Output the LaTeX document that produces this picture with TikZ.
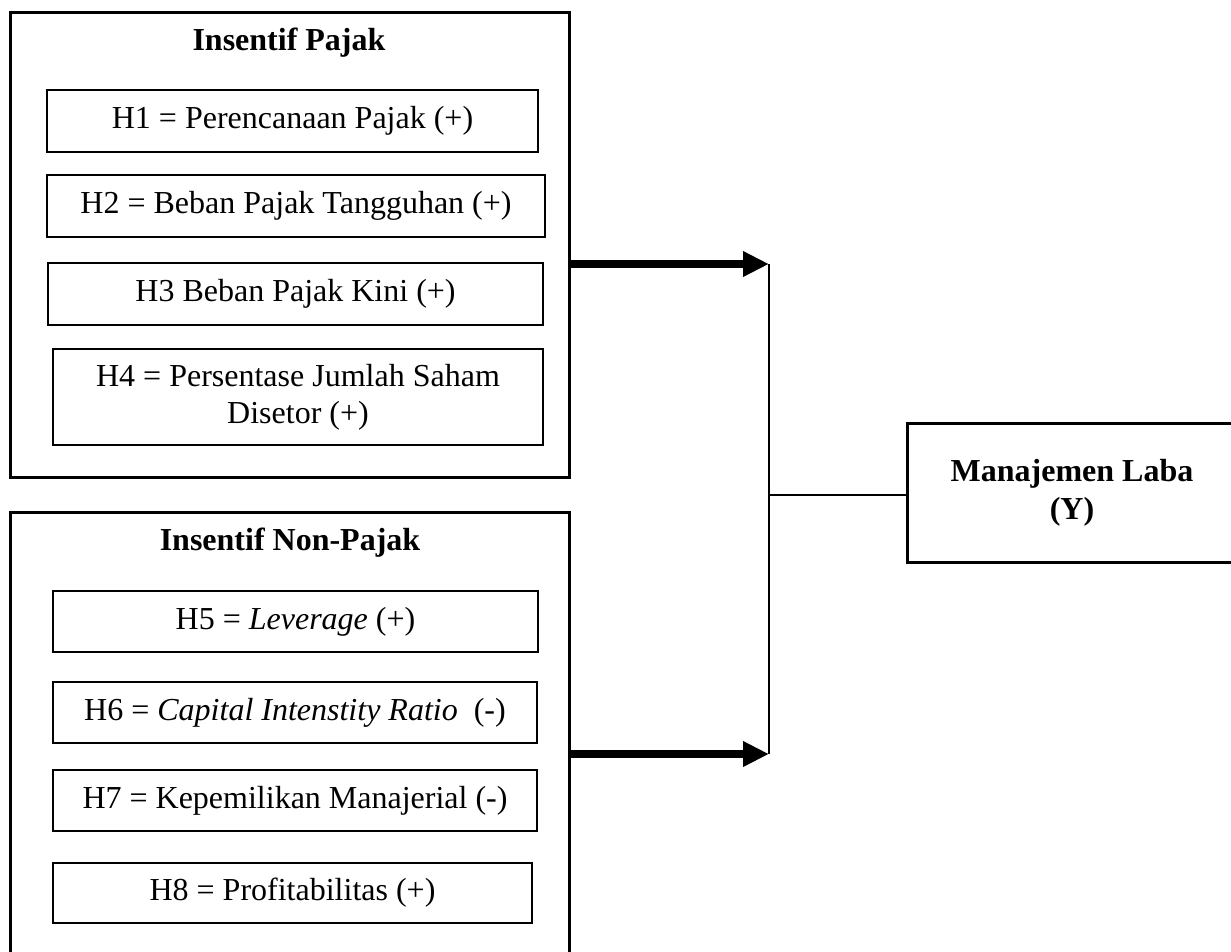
\documentclass[tikz,border=0pt]{standalone}
\usepackage{fontspec}
\setmainfont{Liberation Serif}
\usetikzlibrary{arrows.meta}
\tikzset{
  outerbox/.style={draw, line width=3pt, minimum width=559pt, inner sep=0pt},
  hbox/.style={draw, line width=2.5pt, inner sep=0pt, align=center, font=\fontsize{32}{37}\selectfont},
  titletxt/.style={font=\bfseries\fontsize{32}{37}\selectfont, inner sep=0pt},
  thickarrow/.style={line width=8pt, -{Triangle[length=26pt,width=24pt]}, shorten >=0pt},
  thinline/.style={line width=2pt},
}
\begin{document}
\begin{tikzpicture}[x=1pt,y=-1pt]
\useasboundingbox (0,0) rectangle (1231,951);
% outer boxes
\node[outerbox, minimum height=465pt] (box1) at (289.5,244.5) {};
\node[outerbox, minimum height=500pt] (box2) at (289.5,762) {};
% titles
\node[titletxt] (t1) at (289,43) {Insentif Pajak};
\node[titletxt] (t2) at (290,543) {Insentif Non-Pajak};
% hypothesis boxes
\node[hbox, minimum width=491pt, minimum height=62pt] (h1) at (292.5,121) {H1 = Perencanaan Pajak (+)};
\node[hbox, minimum width=498pt, minimum height=62pt] (h2) at (296,206) {H2 = Beban Pajak Tangguhan (+)};
\node[hbox, minimum width=495pt, minimum height=62pt] (h3) at (295.5,294) {H3 Beban Pajak Kini (+)};
\node[hbox, minimum width=490pt, minimum height=96pt] (h4) at (298,397) {H4 = Persentase Jumlah Saham\\Disetor (+)};
\node[hbox, minimum width=485pt, minimum height=61pt] (h5) at (295.5,621.5) {H5 = \textit{Leverage} (+)};
\node[hbox, minimum width=484pt, minimum height=61pt] (h6) at (295,712.5) {H6 = \textit{Capital Intenstity Ratio}~~(-)};
\node[hbox, minimum width=484pt, minimum height=61pt] (h7) at (295,800.5) {H7 = Kepemilikan Manajerial (-)};
\node[hbox, minimum width=479pt, minimum height=60pt] (h8) at (292.5,893) {H8 = Profitabilitas (+)};
% dependent variable
\node[draw, line width=3pt, minimum width=330pt, minimum height=139pt, align=center, inner sep=0pt,
      font=\bfseries\fontsize{32}{38}\selectfont] (y) at (1072,492.5) {Manajemen Laba\\(Y)};
% connectors
\coordinate (c1) at (769,264);
\coordinate (c2) at (769,754);
\coordinate (cm) at (769,495);
\draw[thickarrow] (box1.east |- c1) -- (c1);
\draw[thickarrow] (box2.east |- c2) -- (c2);
\draw[thinline] (c1) -- (c2);
\draw[thinline] (cm) -- (y.west |- cm);
\end{tikzpicture}
\end{document}
